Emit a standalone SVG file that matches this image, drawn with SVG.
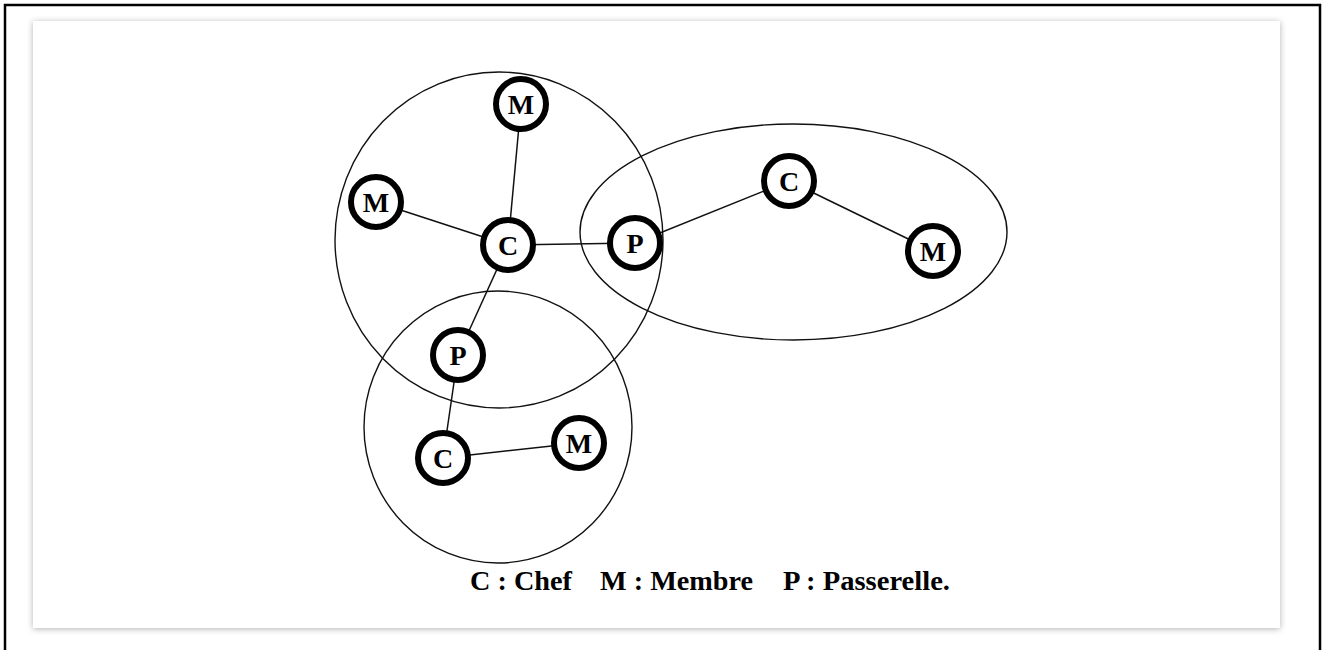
<svg xmlns="http://www.w3.org/2000/svg" width="1322" height="650" viewBox="0 0 1322 650">
  <defs>
    <filter id="cardShadow" x="-5%" y="-5%" width="110%" height="112%">
      <feDropShadow dx="0" dy="1" stdDeviation="3" flood-color="#000" flood-opacity="0.3"/>
    </filter>
  </defs>
  <style>
    .group { fill: none; stroke: #111; stroke-width: 1.4; }
    .link { stroke: #111; stroke-width: 1.5; }
    .node circle { fill: #fff; stroke: #000; stroke-width: 6; }
    .node text, .legend { font-family: "Liberation Serif", "Times New Roman", serif; font-weight: bold; fill: #000; text-anchor: middle; }
    .node text { font-size: 28px; }
    .legend { font-size: 27px; text-anchor: start; }
  </style>

  <rect x="0" y="0" width="1322" height="650" fill="#fff"/>
  <rect x="5" y="5" width="1315" height="660" fill="none" stroke="#000" stroke-width="2.5"/>
  <rect x="33" y="21" width="1247" height="607" fill="#fff" filter="url(#cardShadow)"/>

  <!-- cluster boundaries -->
  <g id="clusters">
    <ellipse class="group" cx="499" cy="240" rx="164" ry="168"/>
    <ellipse class="group" cx="498" cy="427" rx="134" ry="136"/>
    <ellipse class="group" cx="793.5" cy="232" rx="213.5" ry="108"/>
  </g>

  <!-- links between nodes -->
  <g id="connectors">
    <line class="link" x1="508" y1="245" x2="521" y2="104"/>
    <line class="link" x1="508" y1="245" x2="376" y2="202"/>
    <line class="link" x1="508" y1="245" x2="635" y2="243"/>
    <line class="link" x1="508" y1="245" x2="458" y2="355"/>
    <line class="link" x1="635" y1="243" x2="789" y2="181"/>
    <line class="link" x1="789" y1="181" x2="933" y2="251"/>
    <line class="link" x1="458" y1="355" x2="443" y2="458"/>
    <line class="link" x1="443" y1="458" x2="579" y2="443"/>
  </g>

  <g id="m1" class="node"><circle cx="521" cy="104" r="25"/><text x="521" y="113.5">M</text></g>
  <g id="m2" class="node"><circle cx="376" cy="202" r="25"/><text x="376" y="211.5">M</text></g>
  <g id="c1" class="node"><circle cx="508" cy="245" r="25"/><text x="508" y="254.5">C</text></g>
  <g id="p1" class="node"><circle cx="635" cy="243" r="25"/><text x="635" y="252.5">P</text></g>
  <g id="c2" class="node"><circle cx="789" cy="181" r="25"/><text x="789" y="190.5">C</text></g>
  <g id="m3" class="node"><circle cx="933" cy="251" r="25"/><text x="933" y="260.5">M</text></g>
  <g id="p2" class="node"><circle cx="458" cy="355" r="25"/><text x="458" y="364.5">P</text></g>
  <g id="c3" class="node"><circle cx="443" cy="458" r="25"/><text x="443" y="467.5">C</text></g>
  <g id="m4" class="node"><circle cx="579" cy="443" r="25"/><text x="579" y="452.5">M</text></g>

  <g id="legend">
    <text class="legend" x="470" y="590" textLength="102" lengthAdjust="spacingAndGlyphs">C : Chef</text>
    <text class="legend" x="600" y="590" textLength="153" lengthAdjust="spacingAndGlyphs">M : Membre</text>
    <text class="legend" x="783" y="590" textLength="167" lengthAdjust="spacingAndGlyphs">P : Passerelle.</text>
  </g>
</svg>
